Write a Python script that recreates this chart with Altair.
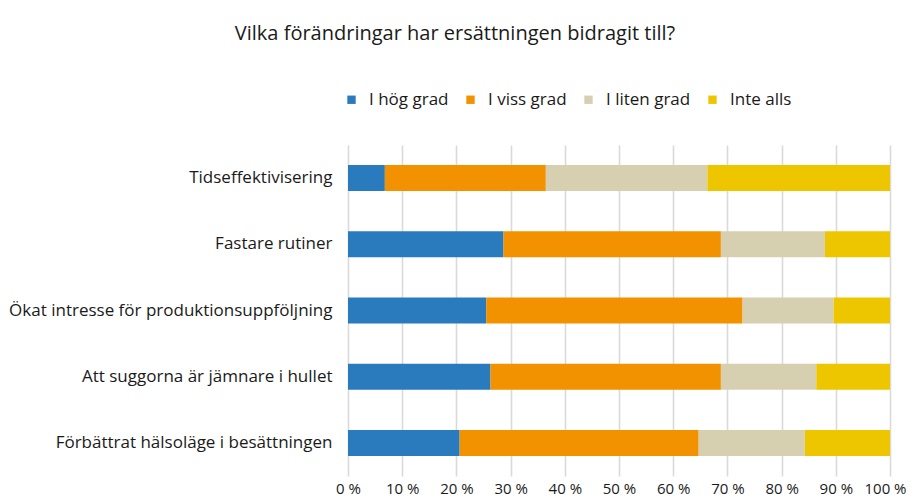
import altair as alt
import pandas as pd

categories = [
    "Tidseffektivisering",
    "Fastare rutiner",
    "Ökat intresse för produktionsuppföljning",
    "Att suggorna är jämnare i hullet",
    "Förbättrat hälsoläge i besättningen",
]
series = ["I hög grad", "I viss grad", "I liten grad", "Inte alls"]
colors = ["#2A7BBE", "#F39200", "#D7D0B0", "#EDC600"]

hog = [6.8, 28.7, 25.5, 26.3, 20.6]
viss = [29.7, 40.1, 47.3, 42.5, 44.1]
liten = [29.8, 19.2, 16.8, 17.6, 19.6]
inte = [33.7, 12.0, 10.4, 13.6, 15.7]

rows = []
for i, c in enumerate(categories):
    for j, (s, vals) in enumerate(zip(series, [hog, viss, liten, inte])):
        rows.append({"kategori": c, "svar": s, "andel": vals[i], "ordning": j})
df = pd.DataFrame(rows)

FONT = "Open Sans"

chart = (
    alt.Chart(df)
    .mark_bar(size=26)
    .encode(
        y=alt.Y(
            "kategori:N",
            sort=categories,
            title=None,
            axis=alt.Axis(
                labelFont=FONT,
                labelFontSize=17,
                labelColor="#1a1a1a",
                labelPadding=16,
                ticks=False,
                domain=False,
                labelLimit=400,
            ),
        ),
        x=alt.X(
            "andel:Q",
            stack="normalize",
            title=None,
            scale=alt.Scale(domain=[0, 1], nice=False),
            axis=alt.Axis(
                values=[i / 10 for i in range(11)],
                labelExpr="round(datum.value*100) + ' %'",
                labelFont=FONT,
                labelFontSize=15,
                labelColor="#1a1a1a",
                labelPadding=5,
                labelOffset={"condition": {"test": "datum.value >= 0.999", "value": -5}, "value": 0},
                ticks=False,
                domain=False,
                grid=True,
                gridColor="#dadada",
                gridWidth=1.6,
                labelFlush=False,
            ),
        ),
        color=alt.Color(
            "svar:N",
            sort=series,
            scale=alt.Scale(domain=series, range=colors),
            legend=alt.Legend(
                title=None,
                orient="none",
                direction="horizontal",
                legendX=-5,
                legendY=-54,
                symbolType="square",
                symbolSize=70,
                symbolStrokeWidth=0,
                labelFont=FONT,
                labelFontSize=17,
                labelColor="#1a1a1a",
                columnPadding=13,
                labelOffset=9,
            ),
        ),
        order=alt.Order("ordning:Q", sort="ascending"),
    )
    .properties(
        width=542,
        height=331,
        title=alt.TitleParams(
            "Vilka förändringar har ersättningen bidragit till?",
            font=FONT,
            fontSize=20,
            fontWeight="normal",
            color="#1a1a1a",
            anchor="middle",
            dx=-164,
            offset=47,
        ),
        padding={"left": 340, "top": 137, "right": 18, "bottom": 24},
        autosize=alt.AutoSizeParams(type="none"),
    )
    .configure_view(stroke=None)
)

chart.save("out.html", embed_options={"renderer": "svg", "actions": False})
